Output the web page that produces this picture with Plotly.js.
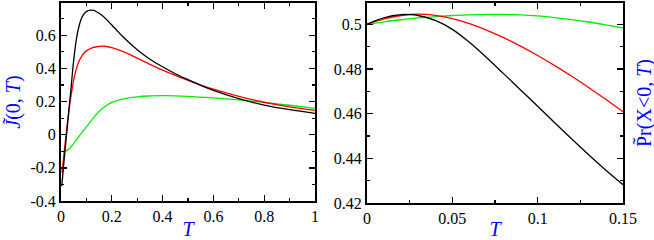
<!DOCTYPE html>
<html>
<head>
<meta charset="utf-8">
<script src="https://cdn.plot.ly/plotly-3.0.1.min.js"></script>
<style>
html,body{margin:0;padding:0;background:#fff;}
#chart{width:654px;height:240px;}
</style>
</head>
<body>
<div id="chart"></div>
<script>
// ---- Left panel: J~(0,T) vs T ----
const T_black_L = [0.003, 0.01, 0.02, 0.03, 0.04, 0.05, 0.06, 0.07, 0.08, 0.09, 0.1, 0.11, 0.12, 0.13, 0.14, 0.16, 0.18, 0.2, 0.22, 0.24, 0.27, 0.3, 0.35, 0.4, 0.45, 0.5, 0.55, 0.6, 0.7, 0.8, 0.9, 1.0];
const J_black = [-0.31, -0.19, -0.03, 0.13, 0.29, 0.45, 0.57, 0.65, 0.70, 0.728, 0.743, 0.75, 0.752, 0.75, 0.742, 0.722, 0.694, 0.662, 0.629, 0.597, 0.553, 0.513, 0.456, 0.41, 0.368, 0.332, 0.298, 0.268, 0.218, 0.179, 0.151, 0.129];

const T_red_L = [0.004, 0.01, 0.02, 0.03, 0.04, 0.05, 0.06, 0.07, 0.08, 0.09, 0.1, 0.12, 0.14, 0.17, 0.2, 0.25, 0.3, 0.35, 0.4, 0.45, 0.5, 0.55, 0.6, 0.7, 0.8, 0.9, 1.0];
const J_red = [-0.23, -0.14, 0.0, 0.13, 0.24, 0.33, 0.395, 0.44, 0.47, 0.492, 0.506, 0.523, 0.531, 0.534, 0.526, 0.498, 0.462, 0.425, 0.39, 0.358, 0.328, 0.300, 0.275, 0.232, 0.196, 0.168, 0.147];

const T_green_L = [0.01, 0.02, 0.03, 0.04, 0.05, 0.06, 0.07, 0.08, 0.1, 0.12, 0.14, 0.16, 0.18, 0.2, 0.24, 0.3, 0.35, 0.4, 0.45, 0.5, 0.6, 0.7, 0.8, 0.9, 1.0];
const J_green = [-0.10, -0.097, -0.088, -0.072, -0.052, -0.032, -0.012, 0.008, 0.047, 0.087, 0.124, 0.155, 0.178, 0.195, 0.215, 0.229, 0.234, 0.236, 0.235, 0.232, 0.222, 0.21, 0.195, 0.178, 0.159];

// ---- Right panel: Pr~(X<0,T) vs T ----
const T_black_R = [0, 0.005, 0.01, 0.015, 0.02, 0.025, 0.03, 0.04, 0.05, 0.06, 0.07, 0.08, 0.09, 0.1, 0.11, 0.12, 0.13, 0.14, 0.15];
const P_black = [0.5, 0.5016, 0.5029, 0.5038, 0.5043, 0.5043, 0.5039, 0.5017, 0.4977, 0.4919, 0.4851, 0.4779, 0.4706, 0.4633, 0.4559, 0.4486, 0.4415, 0.4347, 0.4282];

const T_red_R = [0, 0.01, 0.02, 0.03, 0.04, 0.05, 0.06, 0.07, 0.08, 0.09, 0.1, 0.11, 0.12, 0.13, 0.14, 0.15];
const P_red = [0.5, 0.5024, 0.5039, 0.5045, 0.5040, 0.5025, 0.5003, 0.4974, 0.4940, 0.4902, 0.4860, 0.4815, 0.4767, 0.4716, 0.4663, 0.4608];

const T_green_R = [0, 0.01, 0.02, 0.03, 0.04, 0.05, 0.06, 0.07, 0.08, 0.09, 0.1, 0.11, 0.12, 0.13, 0.14, 0.15];
const P_green = [0.5, 0.5011, 0.5020, 0.5028, 0.5034, 0.5039, 0.5042, 0.5044, 0.5044, 0.5042, 0.5037, 0.5030, 0.5021, 0.5010, 0.4997, 0.4983];

// tick labels
const xL_tickvals = [0, 0.2, 0.4, 0.6, 0.8, 1];
const xL_ticktext = ["0", "0.2", "0.4", "0.6", "0.8", "1"];
const yL_tickvals = [-0.4, -0.2, 0, 0.2, 0.4, 0.6];
const yL_ticktext = ["-0.4", "-0.2", "0", "0.2", "0.4", "0.6"];
const xR_tickvals = [0, 0.05, 0.1, 0.15];
const xR_ticktext = ["0", "0.05", "0.1", "0.15"];
const yR_tickvals = [0.42, 0.44, 0.46, 0.48, 0.5];
const yR_ticktext = ["0.42", "0.44", "0.46", "0.48", "0.5"];

const BLACK = '#000000', RED = '#ff0000', GREEN = '#00ee00', BLUE = '#0000ff';
const LW = 1.3;

function tr(x, y, color, xa, ya) {
  return {x: x, y: y, type: 'scatter', mode: 'lines', xaxis: xa, yaxis: ya,
          line: {color: color, width: LW, shape: 'spline', smoothing: 1}, hoverinfo: 'skip'};
}

const data = [
  tr(T_green_L, J_green, GREEN, 'x', 'y'),
  tr(T_red_L, J_red, RED, 'x', 'y'),
  tr(T_black_L, J_black, BLACK, 'x', 'y'),
  tr(T_green_R, P_green, GREEN, 'x2', 'y2'),
  tr(T_red_R, P_red, RED, 'x2', 'y2'),
  tr(T_black_R, P_black, BLACK, 'x2', 'y2')
];

const SERIF = '"Liberation Serif", "Times New Roman", Times, serif';
const titleFont = {family: SERIF, size: 20, color: BLUE};

function axis(extra) {
  return Object.assign({
    showline: true, linecolor: '#000', linewidth: 2, mirror: 'allticks',
    ticks: 'inside', ticklen: 6, tickwidth: 1.3, tickcolor: '#000',
    showgrid: false, zeroline: false, tickmode: 'array',
    tickfont: {family: SERIF, size: 16, color: '#000'}, fixedrange: true
  }, extra);
}

const layout = {
  width: 654, height: 240,
  margin: {l: 0, r: 0, t: 0, b: 0},
  paper_bgcolor: '#fff', plot_bgcolor: '#fff',
  showlegend: false,
  font: {family: SERIF},
  xaxis: axis({domain: [61/654, 315/654], range: [0, 1], anchor: 'y',
    tickvals: xL_tickvals, ticktext: xL_ticktext,
    minor: {tickmode: 'linear', tick0: 0, dtick: 0.1, ticks: 'inside', ticklen: 3, tickwidth: 1.1, tickcolor: '#000'},
    title: {text: '<i>T</i>', font: titleFont, standoff: 0}}),
  yaxis: axis({domain: [1 - 201/240, 1 - 3/240], range: [-0.4, 0.795], anchor: 'x',
    tickvals: yL_tickvals, ticktext: yL_ticktext,
    minor: {tickmode: 'linear', tick0: 0, dtick: 0.1, ticks: 'inside', ticklen: 3, tickwidth: 1.1, tickcolor: '#000'},
    title: {text: '<i>J\u0303</i>(0, <i>T</i>)', font: titleFont, standoff: 4}}),
  xaxis2: axis({domain: [367/654, 623/654], range: [0, 0.15], anchor: 'y2',
    tickvals: xR_tickvals, ticktext: xR_ticktext,
    minor: {tickmode: 'linear', tick0: 0, dtick: 0.025, ticks: 'inside', ticklen: 3, tickwidth: 1.1, tickcolor: '#000'},
    title: {text: '<i>T</i>', font: titleFont, standoff: 0}}),
  yaxis2: axis({domain: [1 - 203/240, 1 - 3/240], range: [0.42, 0.5095], anchor: 'x2',
    tickvals: yR_tickvals, ticktext: yR_ticktext,
    minor: {tickmode: 'linear', tick0: 0.42, dtick: 0.01, ticks: 'inside', ticklen: 3, tickwidth: 1.1, tickcolor: '#000'}}),
  annotations: [{
    text: 'P\u0303r(X&lt;0, <i>T</i>)', xref: 'paper', yref: 'paper',
    x: 644/654, y: 1 - 103/240, xanchor: 'center', yanchor: 'middle',
    textangle: -90, showarrow: false, font: titleFont
  }]
};

Plotly.newPlot('chart', data, layout, {staticPlot: true, displayModeBar: false});
</script>
</body>
</html>
